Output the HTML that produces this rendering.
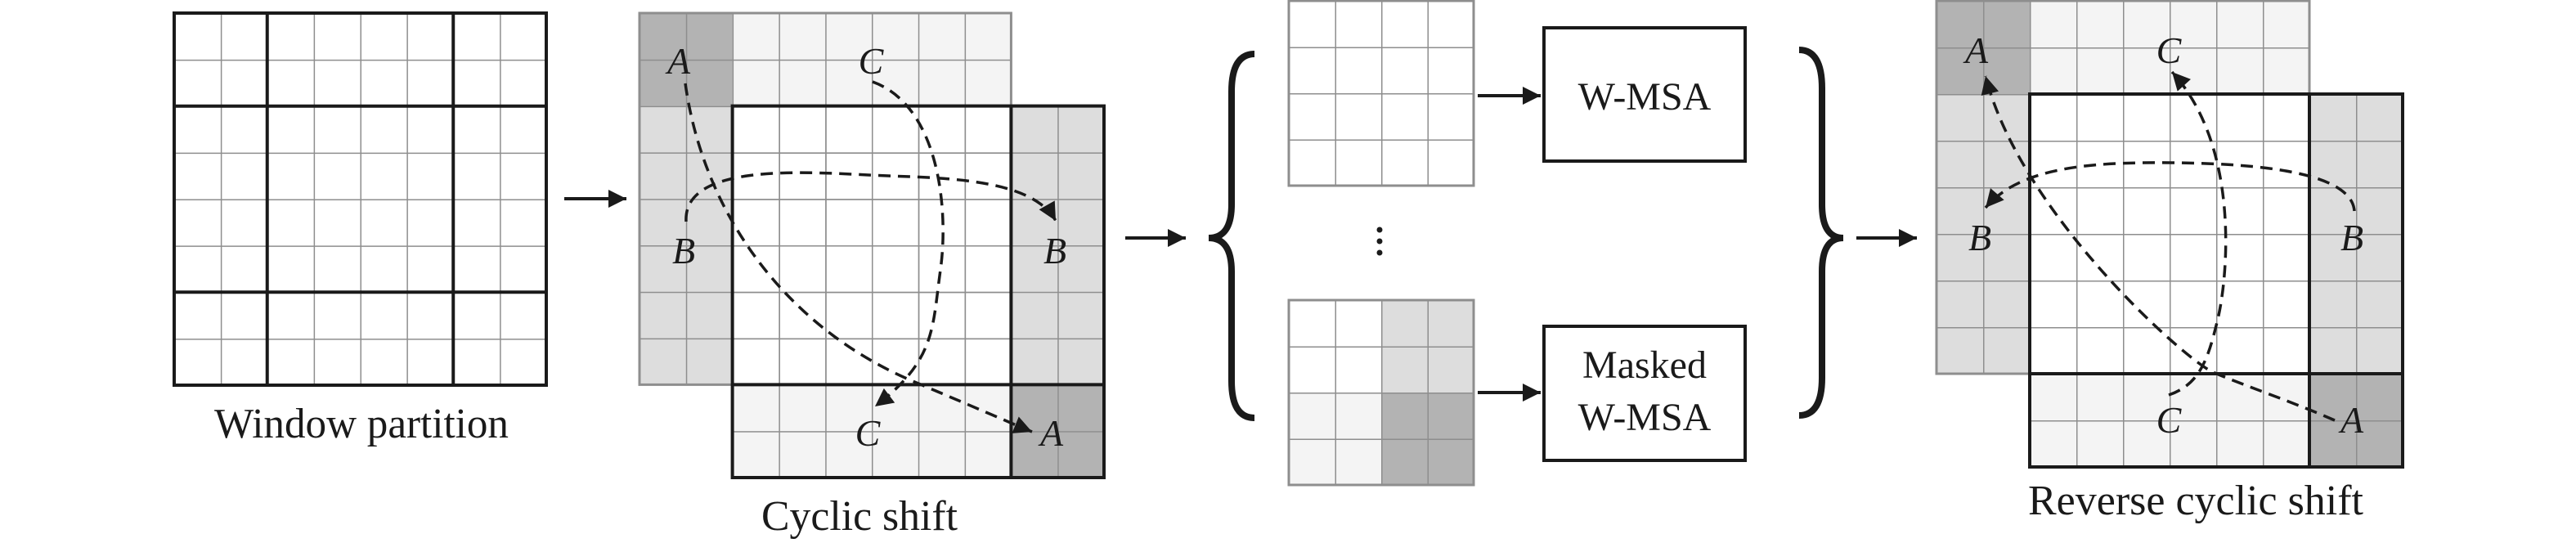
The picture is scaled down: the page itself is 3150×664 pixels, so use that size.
<!DOCTYPE html>
<html><head><meta charset="utf-8"><style>
html,body{margin:0;padding:0;background:#fff;}
svg{display:block;}
text{font-family:"Liberation Serif",serif;fill:#1a1a1a;}
.lab{font-style:italic;font-size:46px;}
</style></head><body>
<svg width="3150" height="664" viewBox="0 0 3150 664" xmlns="http://www.w3.org/2000/svg">
<defs>
<pattern id="p1" patternUnits="userSpaceOnUse" x="213" y="16" width="56.875" height="56.875"><path d="M0 0H56.875M0 0V56.875" stroke="#8e8e8e" stroke-width="3" fill="none"/></pattern>
<pattern id="p2" patternUnits="userSpaceOnUse" x="782" y="16" width="56.8" height="56.8"><path d="M0 0H56.8M0 0V56.8" stroke="#8e8e8e" stroke-width="3" fill="none"/></pattern>
<pattern id="p3" patternUnits="userSpaceOnUse" x="2368" y="1" width="57" height="57"><path d="M0 0H57M0 0V57" stroke="#8e8e8e" stroke-width="3" fill="none"/></pattern>
<pattern id="p4" patternUnits="userSpaceOnUse" x="1576" y="1" width="56.5" height="56.5"><path d="M0 0H56.5M0 0V56.5" stroke="#8e8e8e" stroke-width="3" fill="none"/></pattern>
<pattern id="p5" patternUnits="userSpaceOnUse" x="1576" y="367" width="56.5" height="56.5"><path d="M0 0H56.5M0 0V56.5" stroke="#8e8e8e" stroke-width="3" fill="none"/></pattern>
<marker id="ah" viewBox="0 0 10 10" refX="9" refY="5" markerWidth="9" markerHeight="7" markerUnits="userSpaceOnUse" orient="auto" style="overflow:visible">
<path d="M0 0L10 5L0 10z" fill="#1a1a1a"/></marker>
<marker id="ahs" viewBox="0 0 10 10" refX="10" refY="5" markerWidth="26" markerHeight="22" markerUnits="userSpaceOnUse" orient="auto">
<path d="M0 0L10 5L0 10z" fill="#1a1a1a"/></marker>
</defs>

<!-- Grid 1 -->
<rect x="213" y="16" width="455" height="455" fill="url(#p1)" stroke="#8e8e8e" stroke-width="3"/>
<g stroke="#1a1a1a" stroke-width="4" fill="none">
<rect x="213" y="16" width="455" height="455"/>
<line x1="326.75" y1="16" x2="326.75" y2="471"/><line x1="554.25" y1="16" x2="554.25" y2="471"/>
<line x1="213" y1="129.75" x2="668" y2="129.75"/><line x1="213" y1="357.25" x2="668" y2="357.25"/>
</g>
<text x="442" y="535" font-size="52" text-anchor="middle" textLength="360" lengthAdjust="spacingAndGlyphs">Window partition</text>

<!-- arrow 1 -->
<line x1="690" y1="243" x2="766" y2="243" stroke="#1a1a1a" stroke-width="4" marker-end="url(#ahs)"/>

<!-- Grid 2 -->
<g>
<rect x="782" y="16" width="113.6" height="113.6" fill="#b3b3b3"/>
<rect x="1236.4" y="470.4" width="113.6" height="113.6" fill="#b3b3b3"/>
<rect x="895.6" y="16" width="340.8" height="113.6" fill="#f4f4f4"/>
<rect x="895.6" y="470.4" width="340.8" height="113.6" fill="#f4f4f4"/>
<rect x="782" y="129.6" width="113.6" height="340.8" fill="#dddddd"/>
<rect x="1236.4" y="129.6" width="113.6" height="340.8" fill="#dddddd"/>
<rect x="782" y="16" width="454.4" height="454.4" fill="url(#p2)" stroke="#8e8e8e" stroke-width="3"/>
<rect x="895.6" y="129.6" width="454.4" height="454.4" fill="url(#p2)" stroke="#8e8e8e" stroke-width="3"/>
<g stroke="#1a1a1a" stroke-width="4" fill="none">
<rect x="895.6" y="129.6" width="454.4" height="454.4"/>
<line x1="1236.4" y1="129.6" x2="1236.4" y2="584"/>
<line x1="895.6" y1="470.4" x2="1350" y2="470.4"/>
</g>
<text class="lab" x="830" y="90" text-anchor="middle">A</text>
<text class="lab" x="1065" y="90" text-anchor="middle">C</text>
<text class="lab" x="836" y="322" text-anchor="middle">B</text>
<text class="lab" x="1290" y="322" text-anchor="middle">B</text>
<text class="lab" x="1061" y="545" text-anchor="middle">C</text>
<text class="lab" x="1286" y="545" text-anchor="middle">A</text>
<g stroke="#1a1a1a" stroke-width="3.5" fill="none" stroke-dasharray="15 9">
<path d="M838 102 C 860 260, 960 400, 1116 466 S 1230 515, 1262 528" marker-end="url(#ahs)"/>
<path d="M1067 100 C 1150 130, 1160 260, 1150 330 S 1145 440, 1070 497" marker-end="url(#ahs)"/>
<path d="M839 271 C 835 200, 980 210, 1062 214 S 1260 215, 1291 270" marker-end="url(#ahs)"/>
</g>

<!-- arrow 2 -->
<line x1="1376" y1="291" x2="1450" y2="291" stroke="#1a1a1a" stroke-width="4" marker-end="url(#ahs)"/>

<!-- left brace -->
<path d="M1534 66 Q1506 66 1506 112 L1506 250 Q1506 291 1478 291 Q1506 291 1506 332 L1506 466 Q1506 511 1534 511" stroke="#1a1a1a" stroke-width="8" fill="none"/>

<!-- small grids -->
<rect x="1576" y="1" width="226" height="226" fill="url(#p4)" stroke="#8e8e8e" stroke-width="3"/>
<rect x="1689" y="367" width="113" height="113" fill="#dddddd"/>
<rect x="1576" y="480" width="113" height="113" fill="#f4f4f4"/>
<rect x="1689" y="480" width="113" height="113" fill="#b3b3b3"/>
<rect x="1576" y="367" width="226" height="226" fill="url(#p5)" stroke="#8e8e8e" stroke-width="3"/>
<circle cx="1687" cy="281" r="3.5" fill="#1a1a1a"/>
<circle cx="1687" cy="295" r="3.5" fill="#1a1a1a"/>
<circle cx="1687" cy="309" r="3.5" fill="#1a1a1a"/>

<line x1="1807" y1="117" x2="1884" y2="117" stroke="#1a1a1a" stroke-width="4" marker-end="url(#ahs)"/>
<line x1="1807" y1="480" x2="1884" y2="480" stroke="#1a1a1a" stroke-width="4" marker-end="url(#ahs)"/>

<rect x="1888" y="34" width="246" height="163" fill="#fff" stroke="#1a1a1a" stroke-width="4"/>
<text x="2011" y="134" font-size="48" text-anchor="middle">W-MSA</text>
<rect x="1888" y="399" width="246" height="164" fill="#fff" stroke="#1a1a1a" stroke-width="4"/>
<text x="2011" y="462" font-size="48" text-anchor="middle">Masked</text>
<text x="2011" y="526" font-size="48" text-anchor="middle">W-MSA</text>

<!-- right brace -->
<path d="M2200 61 Q2228 61 2228 108 L2228 250 Q2228 291 2254 291 Q2228 291 2228 332 L2228 462 Q2228 508 2200 508" stroke="#1a1a1a" stroke-width="8" fill="none"/>

<!-- arrow 3 -->
<line x1="2270" y1="291" x2="2344" y2="291" stroke="#1a1a1a" stroke-width="4" marker-end="url(#ahs)"/>

<!-- Grid 3 -->
<g>
<rect x="2368" y="1" width="114" height="114" fill="#b3b3b3"/>
<rect x="2824" y="457" width="114" height="114" fill="#b3b3b3"/>
<rect x="2482" y="1" width="342" height="114" fill="#f4f4f4"/>
<rect x="2482" y="457" width="342" height="114" fill="#f4f4f4"/>
<rect x="2368" y="115" width="114" height="342" fill="#dddddd"/>
<rect x="2824" y="115" width="114" height="342" fill="#dddddd"/>
<rect x="2368" y="1" width="456" height="456" fill="url(#p3)" stroke="#8e8e8e" stroke-width="3"/>
<rect x="2482" y="115" width="456" height="456" fill="url(#p3)" stroke="#8e8e8e" stroke-width="3"/>
<g stroke="#1a1a1a" stroke-width="4" fill="none">
<rect x="2482" y="115" width="456" height="456"/>
<line x1="2824" y1="115" x2="2824" y2="571"/>
<line x1="2482" y1="457" x2="2938" y2="457"/>
</g>
<text class="lab" x="2417" y="77" text-anchor="middle">A</text>
<text class="lab" x="2652" y="77" text-anchor="middle">C</text>
<text class="lab" x="2421" y="306" text-anchor="middle">B</text>
<text class="lab" x="2876" y="306" text-anchor="middle">B</text>
<text class="lab" x="2652" y="529" text-anchor="middle">C</text>
<text class="lab" x="2876" y="529" text-anchor="middle">A</text>
<g stroke="#1a1a1a" stroke-width="3.5" fill="none" stroke-dasharray="15 9">
<path d="M2855 514 C 2800 490, 2740 470, 2706 455 S 2470 260, 2428 93" marker-end="url(#ahs)"/>
<path d="M2652 483 C 2690 470, 2700 440, 2712 390 S 2740 180, 2656 88" marker-end="url(#ahs)"/>
<path d="M2879 258 C 2875 210, 2760 200, 2656 199 S 2470 205, 2428 254" marker-end="url(#ahs)"/>
</g>
<text x="2685" y="629" font-size="52" text-anchor="middle" textLength="410" lengthAdjust="spacingAndGlyphs">Reverse cyclic shift</text>
</g>
<text x="1051" y="648" font-size="52" text-anchor="middle" textLength="240" lengthAdjust="spacingAndGlyphs">Cyclic shift</text>
</svg>
</body></html>
